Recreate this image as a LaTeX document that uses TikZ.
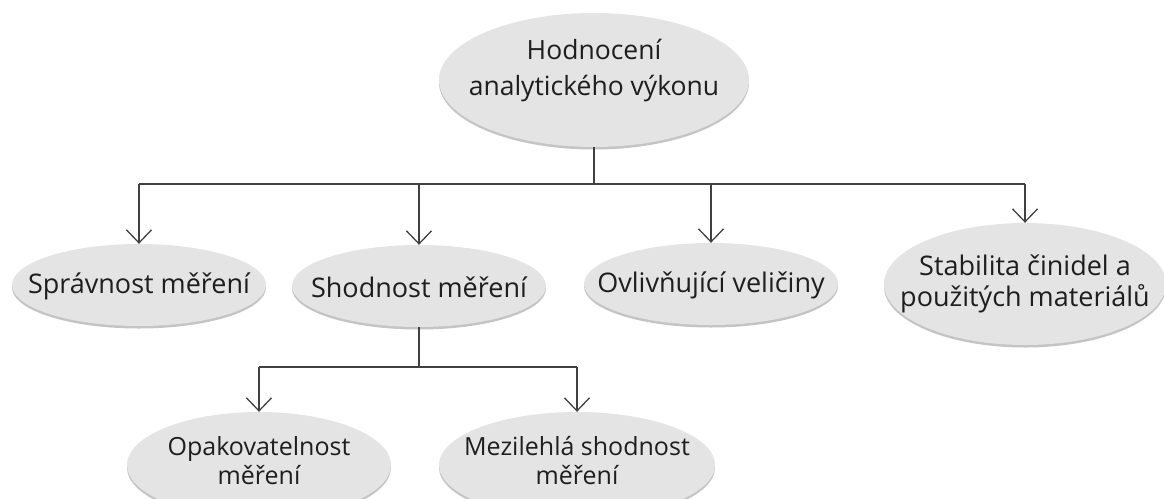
\documentclass[tikz,border=0pt]{standalone}
\usepackage{fontspec}
\setmainfont{Open Sans}
\usetikzlibrary{shapes.geometric,arrows.meta,shadows}
\definecolor{ellfill}{HTML}{E4E4E4}
\definecolor{ellrim}{HTML}{C4C4C4}
\definecolor{linecol}{HTML}{404040}
\definecolor{txtcol}{HTML}{1E1E1E}
\tikzset{
  ell/.style={ellipse, fill=ellfill, inner sep=0pt,
    general shadow={fill=ellrim, shadow yshift=-2.5pt, shadow xshift=0pt}},
  elltext/.style={inner sep=0pt, text=txtcol, align=center,
    font=\fontsize{27}{31}\selectfont},
  conn/.style={draw=linecol, line width=1.3pt},
  arr/.style={conn, -{Straight Barb[length=13pt,width=25pt,line width=1.3pt]}}
}
\begin{document}
\begin{tikzpicture}[x=1pt,y=-1pt]
\useasboundingbox (0,0) rectangle (1164,498);
\clip (0,0) rectangle (1164,498);
% ellipses
\node[ell, minimum width=310pt, minimum height=134pt] (top) at (594,80) {};
\node[ell, minimum width=254pt, minimum height=82pt] (spr) at (139,285) {};
\node[ell, minimum width=254pt, minimum height=82pt] (sho) at (419,286) {};
\node[ell, minimum width=254pt, minimum height=82pt] (ovl) at (711,284) {};
\node[ell, minimum width=282pt, minimum height=122pt] (sta) at (1025,284) {};
\node[ell, minimum width=264pt, minimum height=106pt] (opa) at (259,465) {};
\node[ell, minimum width=276pt, minimum height=106pt] (mez) at (577,465) {};
% texts
\node[elltext, font=\fontsize{26.5}{36}\selectfont] (topt) at ([yshift=9pt]top.center) {Hodnocení\\analytického výkonu};
\node[elltext] (sprt) at ([yshift=-1pt]spr.center) {Správnost měření};
\node[elltext] (shot) at ([yshift=-1pt]sho.center) {Shodnost měření};
\node[elltext] (ovlt) at ([yshift=-1pt]ovl.center) {Ovlivňující veličiny};
\node[elltext, font=\fontsize{27}{31}\selectfont] (stat) at (sta.center) {Stabilita činidel a\\použitých materiálů};
\node[elltext, font=\fontsize{25}{29}\selectfont] (opat) at ([yshift=4pt]opa.center) {Opakovatelnost\\měření};
\node[elltext, font=\fontsize{25}{29}\selectfont] (mezt) at ([yshift=4pt]mez.center) {Mezilehlá shodnost\\měření};
% connectors
\coordinate (j1) at (595,184);
\coordinate (j2) at (419,367);
\draw[conn] (top.south) -- (top.south |- j1);
\draw[conn] (spr.north |- j1) -- (sta.north |- j1);
\draw[arr] (spr.north |- j1) -- (spr.north);
\draw[arr] (sho.north |- j1) -- (sho.north);
\draw[arr] (ovl.north |- j1) -- (ovl.north);
\draw[arr] (sta.north |- j1) -- (sta.north);
\draw[conn] (sho.south) -- (j2);
\draw[conn] (opa.north |- j2) -- (mez.north |- j2);
\draw[arr] (opa.north |- j2) -- (opa.north);
\draw[arr] (mez.north |- j2) -- (mez.north);
\end{tikzpicture}
\end{document}
